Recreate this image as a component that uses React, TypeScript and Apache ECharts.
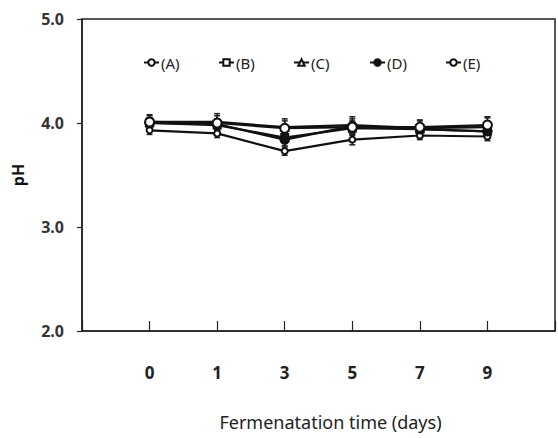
import React, { useEffect, useRef } from "react";
import * as echarts from "echarts";

const days = ["0", "1", "3", "5", "7", "9"];
const seriesNames = ["(A)", "(B)", "(C)", "(D)", "(E)"];
const valA = [3.93, 3.9, 3.73, 3.84, 3.88, 3.87];
const valB = [4.0, 3.98, 3.86, 3.95, 3.94, 3.92];
const valC = [4.01, 4.01, 3.96, 3.98, 3.95, 3.96];
const valD = [4.0, 3.99, 3.84, 3.97, 3.94, 3.92];
const valE = [4.01, 4.0, 3.95, 3.96, 3.96, 3.98];
const errA = [0.04, 0.04, 0.04, 0.05, 0.04, 0.04];
const errB = [0.05, 0.05, 0.05, 0.05, 0.05, 0.05];
const errC = [0.07, 0.08, 0.08, 0.08, 0.07, 0.09];
const errD = [0.05, 0.05, 0.06, 0.05, 0.05, 0.05];
const errE = [0.06, 0.07, 0.07, 0.08, 0.07, 0.08];
const yTicks = [2, 3, 4, 5];

const allVals = [valA, valB, valC, valD, valE];
const allErrs = [errA, errB, errC, errD, errE];
const symbols = ["emptyCircle", "emptyRect", "emptyTriangle", "circle", "emptyCircle"];
const symbolSizes = [6, 7, 7, 9, 9];
const legendLeft = [138, 213, 288, 364, 440];

const FONT = "'Liberation Sans Narrow', 'Noto Sans', sans-serif";

export default function App() {
  const ref = useRef<HTMLDivElement>(null);
  useEffect(() => {
    if (!ref.current) return;
    const chart = echarts.init(ref.current, undefined, { renderer: "svg" });

    const errData: number[][] = [];
    allVals.forEach((vals, s) => {
      vals.forEach((v, i) => {
        errData.push([i, v - allErrs[s][i], v + allErrs[s][i]]);
      });
    });

    const lineSeries = seriesNames.map((name, s) => ({
      name,
      type: "line",
      data: allVals[s].map((v, i) => [i, v]),
      symbol: symbols[s],
      symbolSize: symbolSizes[s],
      lineStyle: { color: "#111", width: 2.2 },
      itemStyle: { color: "#111", borderColor: "#111", borderWidth: 1.5 },
      z: 3,
    }));

    const errSeries = {
      type: "custom",
      name: "err",
      data: errData,
      z: 2,
      renderItem: (params: any, api: any) => {
        const x = api.value(0);
        const lo = api.coord([x, api.value(1)]);
        const hi = api.coord([x, api.value(2)]);
        const w = 3;
        const st = { stroke: "#222", lineWidth: 1.5 };
        return {
          type: "group",
          children: [
            { type: "line", shape: { x1: lo[0], y1: lo[1], x2: hi[0], y2: hi[1] }, style: st },
            { type: "line", shape: { x1: lo[0] - w, y1: lo[1], x2: lo[0] + w, y2: lo[1] }, style: st },
            { type: "line", shape: { x1: hi[0] - w, y1: hi[1], x2: hi[0] + w, y2: hi[1] }, style: st },
          ],
        };
      },
    };

    chart.setOption({
      animation: false,
      backgroundColor: "#fff",
      grid: {
        left: 82,
        top: 19,
        right: 3,
        bottom: 107,
        show: true,
        borderColor: "#222",
        borderWidth: 1.5,
      },
      legend: seriesNames.map((n, s) => ({
        data: [n],
        left: legendLeft[s],
        top: 50,
        itemWidth: 15,
        itemHeight: 8,
        itemGap: 2,
        textStyle: { fontFamily: FONT, fontSize: 15, color: "#222", padding: [0, 0, 0, -3] },
      })),
      xAxis: {
        type: "value",
        min: -1,
        max: 6,
        interval: 1,
        axisLine: { show: true, onZero: false, lineStyle: { color: "#222", width: 1.5 } },
        axisTick: { show: true, inside: true, length: 10, lineStyle: { color: "#222", width: 1.2 } },
        splitLine: { show: false },
        axisLabel: {
          margin: 33,
          fontFamily: FONT,
          fontSize: 17,
          fontWeight: "bold",
          color: "#222",
          formatter: (v: number) => (v >= 0 && v < days.length ? days[v] : ""),
        },
        name: "Fermenatation time (days)",
        nameLocation: "middle",
        nameGap: 82,
        nameTextStyle: {
          fontFamily: "'Noto Sans', sans-serif",
          fontSize: 18,
          color: "#222",
          padding: [0, 0, 0, 24],
        },
      },
      yAxis: {
        type: "value",
        min: yTicks[0],
        max: yTicks[yTicks.length - 1],
        interval: 1,
        axisLine: { show: true, onZero: false, lineStyle: { color: "#222", width: 1.5 } },
        axisTick: { show: true, inside: false, length: 5, lineStyle: { color: "#222", width: 1.2 } },
        splitLine: { show: false },
        axisLabel: {
          margin: 18,
          fontFamily: FONT,
          fontSize: 16,
          fontWeight: "bold",
          color: "#333",
          formatter: (v: number) => v.toFixed(1),
        },
        name: "pH",
        nameLocation: "middle",
        nameGap: 56,
        nameRotate: 90,
        nameTextStyle: { fontFamily: "'Noto Sans', sans-serif", fontSize: 16, fontWeight: "bold", color: "#111" },
      },
      series: [errSeries, ...lineSeries],
    });
    return () => chart.dispose();
  }, []);
  return (
    <div
      ref={ref}
      style={{ position: "fixed", left: 0, top: 0, width: 558, height: 438 }}
    />
  );
}
